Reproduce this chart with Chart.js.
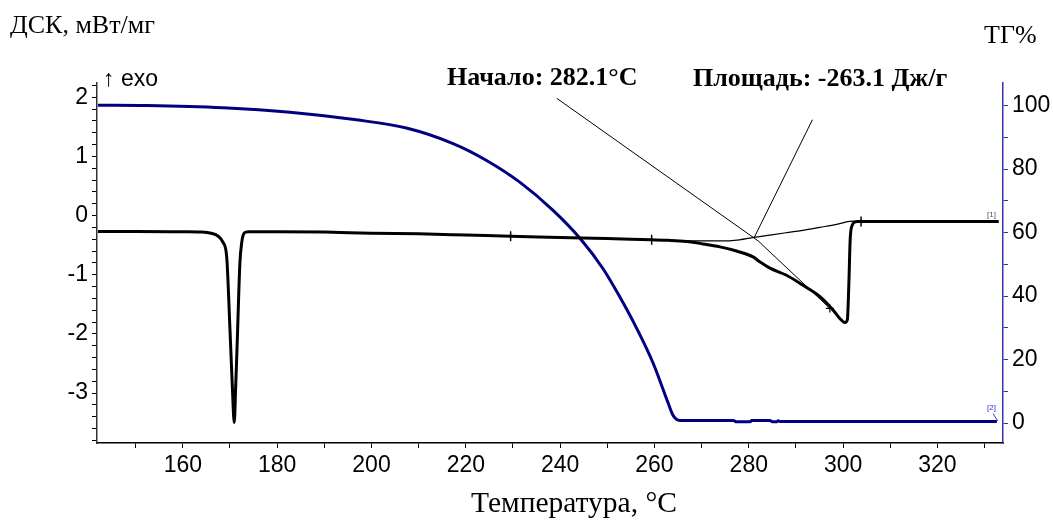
<!DOCTYPE html>
<html lang="ru">
<head>
<meta charset="utf-8">
<title>ДСК / ТГ</title>
<script src="https://cdn.jsdelivr.net/npm/chart.js@4.4.1/dist/chart.umd.min.js"></script>
<style>
    html, body { margin: 0; padding: 0; background: #fff; }
    #wrap { position: relative; width: 1053px; height: 520px; overflow: hidden; }
    #chart { position: absolute; left: 0; top: 0; }
    .lbl { position: absolute; white-space: nowrap; line-height: 1; color: #000; }
    .serif { font-family: 'Liberation Serif', 'Times New Roman', serif; }
    .sans { font-family: 'Liberation Sans', Arial, sans-serif; }
</style>
</head>
<body>
<div id="wrap">
    <canvas id="chart" width="1053" height="520"></canvas>
    <div class="lbl serif" style="left:10px;top:12px;font-size:26px">ДСК, мВт/мг</div>
    <div class="lbl serif" style="left:984px;top:22px;font-size:26px">ТГ%</div>
    <div class="lbl sans" style="left:103px;top:67px;font-size:23px">↑ exo</div>
    <div class="lbl serif" style="left:447px;top:64px;font-size:26px;font-weight:bold">Начало: 282.1°C</div>
    <div class="lbl serif" style="left:693px;top:65px;font-size:26px;font-weight:bold">Площадь: -263.1 Дж/г</div>
    <div class="lbl serif" style="left:471px;top:488px;font-size:29.5px">Температура, °C</div>
    <div class="lbl sans" style="left:987px;top:211px;font-size:8px;color:#555">[1]</div>
    <div class="lbl sans" style="left:987px;top:404px;font-size:8px;color:#3333cc">[2]</div>
</div>
<script>
// --- data ---

// DSC curve, mW/mg vs temperature
const dscTemp = [142.0, 150, 160, 164, 166, 167.5, 168.5, 169.3, 170.0, 170.5, 170.9, 171.2, 171.5,
    172.1, 172.5, 172.8, 173.3, 174, 180, 190, 200, 210, 220, 229.5, 240, 250, 255, 259.4, 263,
    266.8, 270.3, 273.9, 277.4, 280.9, 282.3, 284.5, 288, 291.5, 295.1, 297.9, 299.3, 300.4, 300.9,
    301.2, 301.5, 301.9, 302.5, 303, 310, 320, 333];
const dscValue = [-0.27, -0.27, -0.275, -0.28, -0.30, -0.35, -0.45, -0.70, -1.94, -2.9, -3.50, -2.9, -2.22,
    -0.80, -0.45, -0.33, -0.28, -0.275, -0.275, -0.28, -0.30, -0.31, -0.33, -0.35, -0.37, -0.39, -0.40, -0.41, -0.42,
    -0.44, -0.48, -0.53, -0.60, -0.70, -0.78, -0.89, -1.01, -1.18, -1.37, -1.60, -1.74, -1.81, -1.76,
    -1.20, -0.40, -0.17, -0.11, -0.10, -0.10, -0.10, -0.10];

// integration baseline under the second peak
const baseTemp = [259.4, 266, 274, 278, 281, 284.5, 288, 291.5, 295.1, 298.6, 301.4, 302.5];
const baseValue = [-0.41, -0.43, -0.43, -0.41, -0.37, -0.33, -0.29, -0.25, -0.20, -0.15, -0.10, -0.095];

// TG curve, % vs temperature
const tgTemp = [142.0, 152.3, 168.5, 182.7, 196.8, 207.4, 217.3, 224.4, 231.5, 238.5, 244.2,
    249.1, 252.7, 256.2, 259.7, 262.9, 263.9, 264.6, 265.4, 276.7, 277.4, 280.3, 280.6, 284.5,
    285.0, 286.0, 286.2, 286.6, 332.6];
const tgValue = [100.1, 100.0, 99.3, 97.9, 95.5, 92.9, 88.0, 82.7, 75.8, 67.0, 58.2,
    48.6, 39.6, 29.9, 18.9, 6.3, 2.5, 1.2, 0.8, 0.8, 0.4, 0.4, 0.8, 0.8,
    0.4, 0.4, 0.7, 0.5, 0.5];

// annotation lines
const onsetLineTemp = [239.3, 282.0];
const onsetLineValue = [1.98, -0.43];
const tangentTemp = [282.0, 297.2];
const tangentValue = [-0.43, -1.57];
const areaLineTemp = [293.5, 281.1];
const areaLineValue = [1.62, -0.38];
const tgLeaderTemp = [331.8, 332.8];
const tgLeaderValue = [2.9, 0.6];

// small marks on the DSC curve
const markTemp = [229.5, 259.4, 303.8];
const markValue = [-0.35, -0.41, -0.10];
const crossTemp = [297.2];
const crossValue = [-1.57];

// axes
const xRange = [141.8, 333.9];
const xMajor = [160, 180, 200, 220, 240, 260, 280, 300, 320];
const xMinorStep = 10;
const dscRange = [-3.845, 2.24];
const dscMajor = [-3, -2, -1, 0, 1, 2];
const dscMinorStep = 0.2;
const tgRange = [-6.3, 107.1];
const tgMajor = [0, 20, 40, 60, 80, 100];
const tgMinorStep = 10;

const TG_BLUE = '#000080';
const AXIS_BLUE = '#3434a8';

function toPoints(xs, ys) {
    return xs.map((x, i) => ({ x: x, y: ys[i] }));
}

function tickList(range, step) {
    const out = [];
    const start = Math.ceil(range[0] / step - 1e-9) * step;
    for (let v = start; v <= range[1] + 1e-9; v += step) {
        out.push(Math.round(v * 1000) / 1000);
    }
    return out;
}

function axis(range, major, step, extra) {
    return Object.assign({
        type: 'linear',
        min: range[0],
        max: range[1],
        bounds: 'data',
        afterBuildTicks(scale) {
            scale.ticks = tickList(range, step).map(v => ({ value: v }));
        },
        ticks: {
            autoSkip: false,
            maxRotation: 0,
            color: '#000',
            padding: 4,
            font: { family: "'Liberation Sans', Arial, sans-serif", size: 23 },
            callback(value) {
                return major.some(m => Math.abs(m - value) < 1e-6) ? String(value) : '';
            }
        },
        grid: {
            drawOnChartArea: false,
            drawTicks: true,
            tickLength: 5,
            tickWidth: 1,
            tickColor: '#000'
        },
        border: { display: true, color: '#000', width: 1.5 }
    }, extra);
}

const xAxis = axis(xRange, xMajor, xMinorStep, {
    position: 'bottom',
    afterFit(scale) { scale.height = 77; }
});

const dscAxis = axis(dscRange, dscMajor, dscMinorStep, {
    position: 'left',
    afterFit(scale) { scale.width = 97; }
});
dscAxis.border.color = '#333';

const tgAxis = axis(tgRange, tgMajor, tgMinorStep, {
    position: 'right',
    afterFit(scale) { scale.width = 50; }
});
tgAxis.border.color = AXIS_BLUE;
tgAxis.grid.tickColor = AXIS_BLUE;

function lineSet(label, pts, axisId, color, width, smooth) {
    return {
        type: 'line',
        label: label,
        data: pts,
        yAxisID: axisId,
        borderColor: color,
        borderWidth: width,
        pointRadius: 0,
        fill: false,
        tension: 0,
        cubicInterpolationMode: smooth ? 'monotone' : 'default'
    };
}

new Chart(document.getElementById('chart'), {
    data: {
        datasets: [
            lineSet('Начало', toPoints(onsetLineTemp, onsetLineValue), 'y', '#000', 1, false),
            lineSet('Касательная', toPoints(tangentTemp, tangentValue), 'y', '#000', 1, false),
            lineSet('Площадь', toPoints(areaLineTemp, areaLineValue), 'y', '#000', 1, false),
            lineSet('Базовая линия', toPoints(baseTemp, baseValue), 'y', '#000', 1.2, true),
            lineSet('ДСК', toPoints(dscTemp, dscValue), 'y', '#000', 3, true),
            {
                type: 'scatter',
                label: 'метки',
                data: toPoints(markTemp, markValue),
                yAxisID: 'y',
                pointStyle: 'line',
                rotation: 90,
                radius: 5,
                borderWidth: 1.5,
                borderColor: '#000'
            },
            {
                type: 'scatter',
                label: 'крест',
                data: toPoints(crossTemp, crossValue),
                yAxisID: 'y',
                pointStyle: 'cross',
                radius: 4,
                borderWidth: 1.2,
                borderColor: '#000'
            },
            lineSet('выноска', toPoints(tgLeaderTemp, tgLeaderValue), 'y2', '#3333cc', 1, false),
            lineSet('ТГ', toPoints(tgTemp, tgValue), 'y2', TG_BLUE, 3, true)
        ]
    },
    options: {
        responsive: false,
        devicePixelRatio: 1,
        animation: false,
        layout: { padding: { top: 83, left: 0, right: 0, bottom: 0 } },
        plugins: {
            legend: { display: false },
            tooltip: { enabled: false }
        },
        scales: {
            x: xAxis,
            y: dscAxis,
            y2: tgAxis
        }
    }
});
</script>
</body>
</html>
